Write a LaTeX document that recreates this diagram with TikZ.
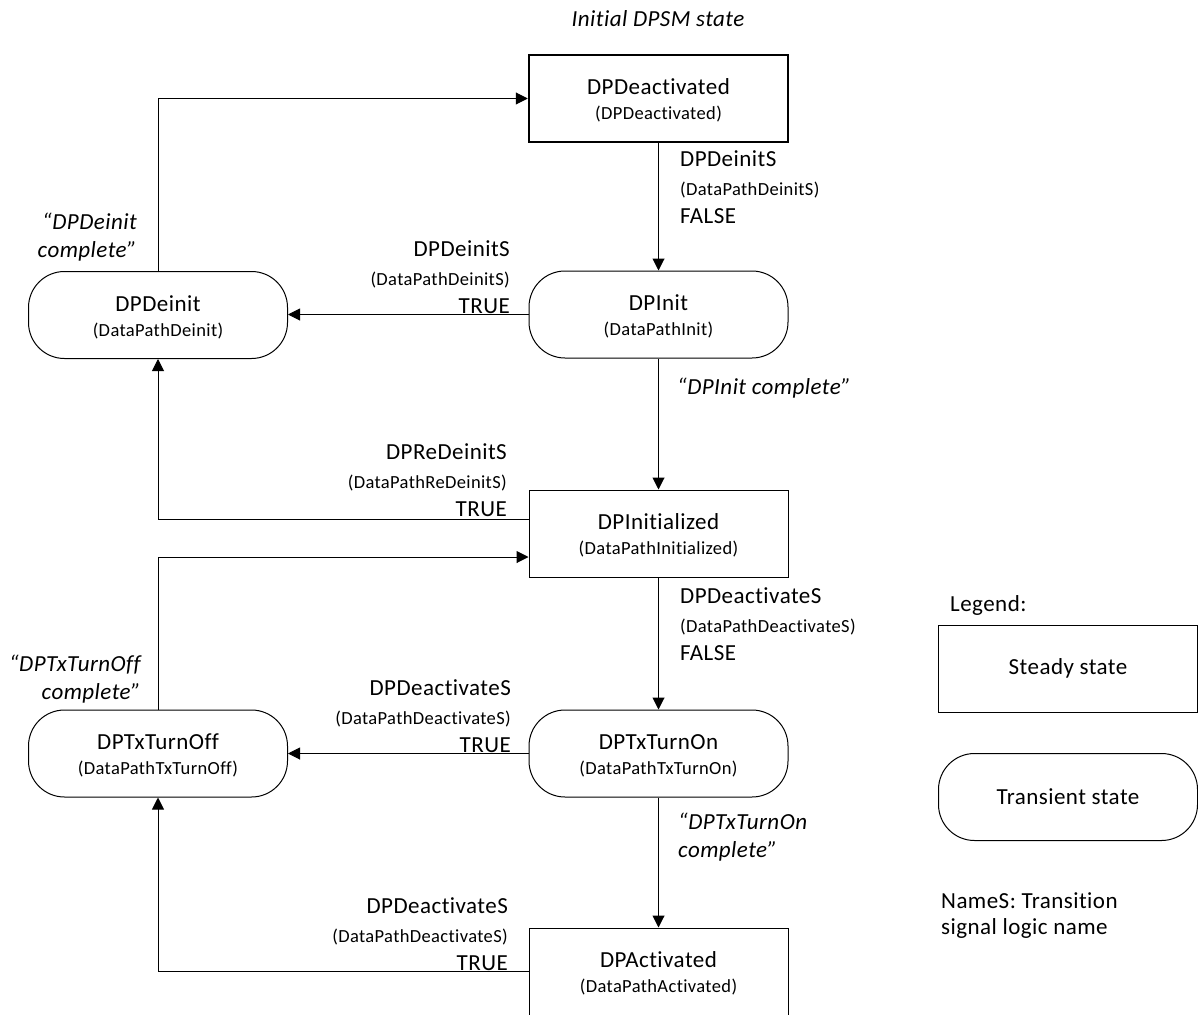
\documentclass[tikz,border=0pt]{standalone}
\usepackage{fontspec}
\setmainfont{Carlito}[Ligatures={NoCommon,NoRequired,NoContextual},LetterSpace=2]
\usetikzlibrary{arrows.meta}
\newcommand\mainf{\fontsize{23}{25}\selectfont}
\newcommand\subf{\fontsize{18.5}{25}\selectfont}
\newcommand\lblf{\fontsize{23}{28.5}\selectfont}
\newcommand\lblsub{\fontsize{18.5}{28.5}\selectfont}
\newcommand\hs{\rule{0pt}{20pt}}
\tikzset{
  box/.style={draw, line width=1pt, minimum width=259pt, minimum height=87pt,
              inner sep=0pt, align=center, font=\mainf},
  steady/.style={box},
  transient/.style={box, rounded corners=36pt},
  initialbox/.style={box, line width=2.5pt},
  arr/.style={draw, line width=1pt, -{Triangle[length=12pt,width=12pt]}},
  lblL/.style={inner sep=0pt, font=\lblf, align=left, anchor=north west},
  lblR/.style={inner sep=0pt, font=\lblf, align=right, anchor=north east},
  itl/.style={inner sep=0pt, font=\lblf\itshape},
}
\begin{document}
\begin{tikzpicture}[x=1pt,y=-1pt]
\useasboundingbox (0,0) rectangle (1198,1014);
\clip (0,0) rectangle (1198,1014);

% states
\node[initialbox] (deact) at (658.5,98.5) {\hs DPDeactivated\\{\subf (DPDeactivated)}};
\node[transient] (init) at (658.5,314.5) {\hs DPInit\\{\subf (DataPathInit)}};
\node[transient] (deinit) at (158,315) {\hs DPDeinit\\{\subf (DataPathDeinit)}};
\node[steady] (initd) at (658.5,533.5) {\hs DPInitialized\\{\subf (DataPathInitialized)}};
\node[transient] (txon) at (658.5,753.5) {\hs DPTxTurnOn\\{\subf (DataPathTxTurnOn)}};
\node[transient] (txoff) at (158,753.5) {\hs DPTxTurnOff\\{\subf (DataPathTxTurnOff)}};
\node[steady] (act) at (658.5,971.5) {\hs DPActivated\\{\subf (DataPathActivated)}};

% legend
\node[inner sep=0pt, font=\mainf, anchor=west] (legt) at (950,605) {Legend:};
\node[steady] (legs) at (1068,668.5) {Steady state};
\node[transient] (legr) at (1068,797) {Transient state};
\node[inner sep=0pt, font=\fontsize{23}{26}\selectfont, align=left, anchor=north west] (legn) at (941,892.5) {NameS: Transition\\signal logic name};

% connectors
\path[arr] (deact) -- (init);
\path[arr] (init.west) -- (init.west -| deinit.east);
\path[arr] (deinit.north) |- (deact.west);
\path[arr] (init) -- (initd);
\path[arr] ([yshift=14.5pt]initd.west) -| (deinit.south);
\path[arr] (txoff.north) |- ([yshift=-23.5pt]initd.west);
\path[arr] (initd) -- (txon);
\path[arr] (txon.west) -- (txon.west -| txoff.east);
\path[arr] (txon) -- (act);
\path[arr] (act.west) -| (txoff.south);

% labels
\node[itl] (initlbl) at (658,19) {Initial DPSM state};
\node[lblL] (l1) at (680,150.5) {DPDeinitS\\{\lblsub (DataPathDeinitS)}\\FALSE};
\node[lblR] (l2) at (510,240.5) {DPDeinitS\\{\lblsub (DataPathDeinitS)}\\TRUE};
\node[itl, align=right, anchor=north east] (l3) at (137,212.5) {“DPDeinit\\complete”};
\node[itl, anchor=base west] (l4) at (677,394) {“DPInit complete”};
\node[lblR] (l5) at (507,443.5) {DPReDeinitS\\{\lblsub (DataPathReDeinitS)}\\TRUE};
\node[lblL] (l6) at (680,587.5) {DPDeactivateS\\{\lblsub (DataPathDeactivateS)}\\FALSE};
\node[itl, align=right, anchor=north east] (l7) at (141,654.5) {“DPTxTurnOff\\complete”};
\node[lblR] (l8) at (511,679.5) {DPDeactivateS\\{\lblsub (DataPathDeactivateS)}\\TRUE};
\node[itl, align=left, anchor=north west] (l9) at (678,812.5) {“DPTxTurnOn\\complete”};
\node[lblR] (l10) at (508,897.5) {DPDeactivateS\\{\lblsub (DataPathDeactivateS)}\\TRUE};
\end{tikzpicture}
\end{document}
